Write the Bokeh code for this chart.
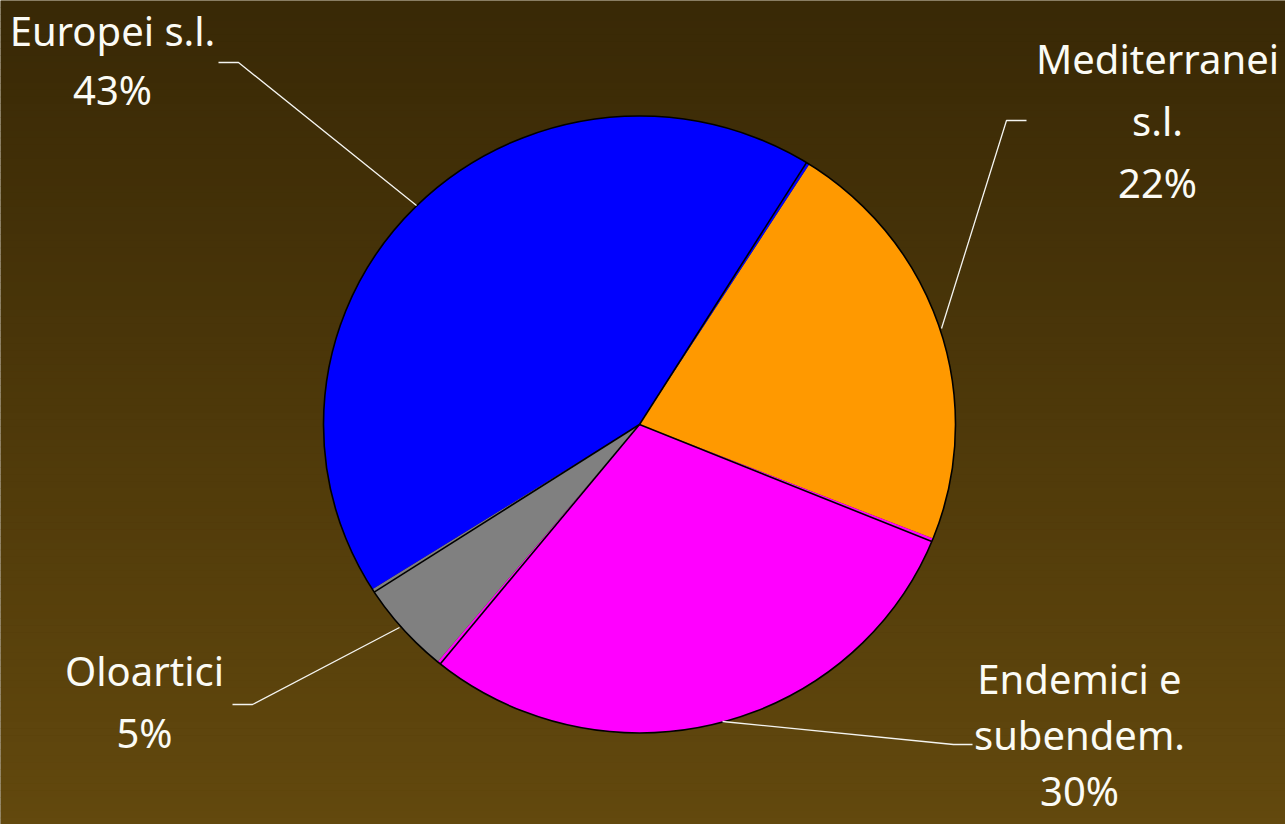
import numpy as np
from bokeh.plotting import figure
from bokeh.models import Range1d
from bokeh.core.properties import value
from bokeh.embed import file_html
from bokeh.resources import INLINE

# ---- data ----
categories = ["Mediterranei s.l.", "Endemici e subendem.", "Oloartici", "Europei s.l."]
percents = [22, 30, 5, 43]
colors = ["#FF9900", "#FF00FF", "#808080", "#0000FF"]
label_lines = [["Mediterranei", "s.l.", "22%"],
               ["Endemici e", "subendem.", "30%"],
               ["Oloartici", "5%"],
               ["Europei s.l.", "43%"]]

# ---- layout (reference pixel coordinates) ----
W, H = 1285, 824
CX, CY, RX, RY = 639, 424, 316, 308.5
START = 32.5  # degrees clockwise from top
TEXT_SHIFT = -15
label_pos = [(1157, 73), (1079, 693), (144, 685), (112, 45)]  # center x, first baseline
line_gap = [62, 56, 62, 59]
leaders = [[(1026, 120), (1006, 120), (941, 328)],
           [(722, 721), (953, 744), (972, 744)],
           [(232, 704), (252, 704), (399, 627)],
           [(218, 62), (238, 62), (416, 205)]]
ray_offsets = [-0.6, 0.6, -0.6, -0.6]  # outline drift at each start boundary

p = figure(width=W, height=H, output_backend="svg", toolbar_location=None,
           x_range=Range1d(0, W), y_range=Range1d(H, 0),
           min_border=0)
p.axis.visible = False
p.grid.visible = False
p.outline_line_color = None
p.background_fill_color = "#4b380a"
p.border_fill_color = "#4b380a"

# background gradient (style only)
n = 120
top = np.array([57, 41, 6]); bot = np.array([99, 73, 14])
ys = np.linspace(0, H, n + 1)
cols = []
for i in range(n):
    t = i / (n - 1)
    c = (top * (1 - t) + bot * t).astype(int)
    cols.append("#%02x%02x%02x" % tuple(c))
p.quad(left=0, right=W, top=ys[:-1], bottom=ys[1:] + 0.5, fill_color=cols, line_color=None)

def pt(a_deg):
    a = np.radians(a_deg)
    return CX + RX * np.sin(a), CY - RY * np.cos(a)

total = sum(percents)
xs_list, ys_list = [], []
bounds = []
a = START
for pc in percents:
    a1 = a + pc / total * 360.0
    bounds.append(a)
    t = np.linspace(a, a1, max(int(a1 - a) * 2, 4))
    px = [CX] + list(CX + RX * np.sin(np.radians(t)))
    py = [CY] + list(CY - RY * np.cos(np.radians(t)))
    xs_list.append(px); ys_list.append(py)
    a = a1

p.patches(xs=xs_list, ys=ys_list, fill_color=colors, line_color=None)

# boundary rays (black outlines)
rx_, ry_ = [], []
for b, off in zip(bounds, ray_offsets):
    ex, ey = pt(b + off)
    rx_.append([CX, ex]); ry_.append([CY, ey])
p.multi_line(xs=rx_, ys=ry_, line_color="black", line_width=1.6)

# outer outline
p.ellipse(x=CX, y=CY, width=2 * RX, height=2 * RY, fill_color=None,
          line_color="black", line_width=1.6)

# leader lines
p.multi_line(xs=[[q[0] for q in l] for l in leaders], ys=[[q[1] for q in l] for l in leaders],
             line_color="#f4f4f0", line_width=1.3)

# labels
tx, ty, tt = [], [], []
for lines, (x0, y0), g in zip(label_lines, label_pos, line_gap):
    for k, s in enumerate(lines):
        tx.append(x0); ty.append(y0 + TEXT_SHIFT + k * g); tt.append(s)
p.text(x=tx, y=ty, text=tt, text_align="center", text_baseline="alphabetic",
       text_font=value("Noto Sans"), text_font_size="40px", text_color="#fbfbf5")

open("out.html", "w").write(file_html(p, INLINE))
